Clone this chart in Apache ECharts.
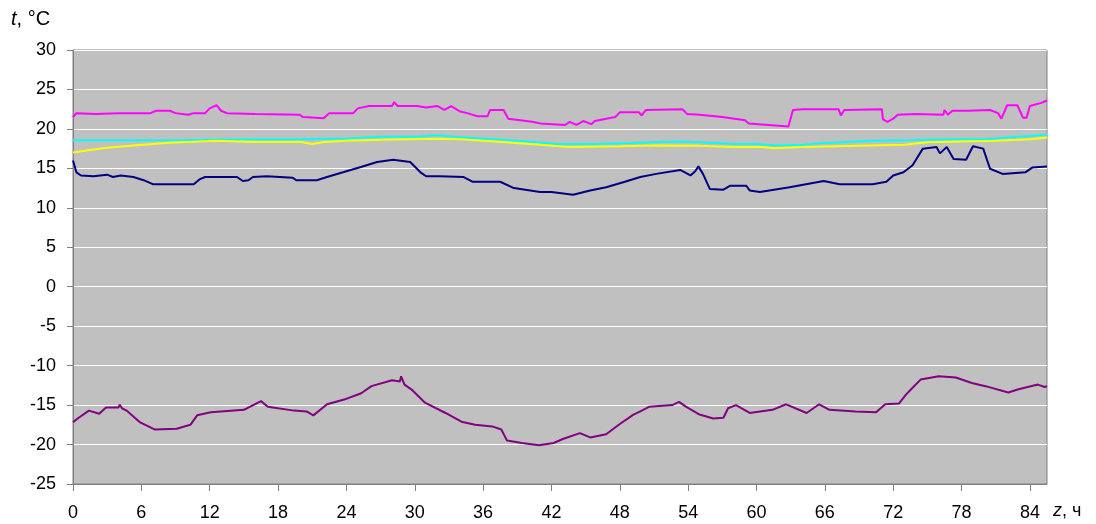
<!DOCTYPE html>
<html>
<head>
<meta charset="utf-8">
<title>t, °C</title>
<script src="https://cdn.jsdelivr.net/npm/echarts@6/dist/echarts.min.js"></script>
<style>
    html, body { margin: 0; padding: 0; background: #fff; }
    #main { width: 1096px; height: 524px; }
</style>
</head>
<body>
<div id="main"></div>
<script>
// hours
var xTicks = [0, 6, 12, 18, 24, 30, 36, 42, 48, 54, 60, 66, 72, 78, 84];

var magentaT = [0, 0.3, 2, 4, 6.8, 7.3, 8.5, 9, 10.1, 10.6, 11.6, 12.0, 12.6, 13.0, 13.5, 16, 19.9, 20.2, 22, 22.5, 24.6, 25, 26, 28, 28.2, 28.5, 30.2, 31, 32, 32.6, 33.2, 34, 34.6, 35.5, 36.4, 36.6, 37.8, 38.2, 40.3, 41, 43.2, 43.6, 44.2, 44.8, 45.5, 45.8, 47.6, 48, 49.7, 49.9, 50.3, 53.5, 53.9, 55, 57, 59, 59.3, 62.8, 63.2, 64, 67.2, 67.4, 67.7, 71, 71.1, 71.5, 72, 72.4, 74, 76.4, 76.5, 76.8, 77.2, 78.5, 80.5, 81.2, 81.5, 82, 82.9, 83.4, 83.7, 84, 85.0, 85.5];
var magentaV = [21.5, 22.0, 21.9, 22.0, 22.0, 22.3, 22.3, 22.0, 21.8, 22.0, 22.0, 22.6, 23.0, 22.3, 22.0, 21.9, 21.8, 21.5, 21.35, 22.0, 22.0, 22.6, 22.9, 22.9, 23.4, 22.9, 22.9, 22.7, 22.9, 22.4, 22.9, 22.2, 22.0, 21.6, 21.6, 22.4, 22.4, 21.3, 20.9, 20.7, 20.5, 20.9, 20.5, 21.0, 20.6, 21.0, 21.5, 22.1, 22.1, 21.7, 22.4, 22.5, 21.9, 21.8, 21.5, 21.1, 20.7, 20.3, 22.4, 22.5, 22.5, 21.7, 22.4, 22.5, 21.2, 20.9, 21.3, 21.8, 21.9, 21.8, 22.4, 21.8, 22.3, 22.3, 22.4, 22.0, 21.3, 23.0, 23.0, 21.4, 21.4, 22.9, 23.3, 23.6];

var cyanT = [0, 5, 10, 16, 20, 24, 27, 30, 32, 34, 38, 40, 42.5, 46, 49, 53, 55, 58, 60, 62, 64, 66, 70, 74, 77, 80, 82, 84, 85.5];
var cyanV = [18.55, 18.55, 18.6, 18.7, 18.7, 18.8, 19.0, 19.0, 19.2, 18.95, 18.6, 18.4, 18.1, 18.1, 18.2, 18.4, 18.3, 18.1, 18.1, 17.9, 18.0, 18.2, 18.5, 18.6, 18.7, 18.7, 18.9, 19.1, 19.3];

var yellowT = [0, 1.8, 3, 5.3, 7, 8.5, 11, 12.5, 16, 20, 21, 22, 24, 28, 32, 34, 36, 38, 41, 43.5, 48, 51, 55, 58, 60.5, 61.5, 64, 67, 70, 73, 75, 78, 81, 84, 85.5];
var yellowV = [17.0, 17.4, 17.6, 17.9, 18.1, 18.26, 18.4, 18.5, 18.35, 18.35, 18.1, 18.35, 18.5, 18.65, 18.75, 18.7, 18.5, 18.3, 18.0, 17.7, 17.8, 17.9, 17.85, 17.7, 17.7, 17.55, 17.7, 17.8, 17.9, 18.0, 18.3, 18.4, 18.5, 18.7, 18.9];

var navyT = [0, 0.3, 0.7, 1.8, 3, 3.5, 4.2, 5.3, 6.2, 7.0, 8.5, 10.6, 11.1, 11.6, 14.4, 14.9, 15.4, 15.8, 17, 19.3, 19.6, 21.4, 22.3, 23.7, 25.2, 26.7, 28.1, 29.6, 30.5, 31, 32.2, 34.3, 35.1, 37.5, 38.7, 41, 42, 43.9, 45.4, 46.8, 48.3, 49.8, 51.2, 53.3, 54.2, 54.6, 54.9, 55.3, 55.9, 57.1, 57.7, 59.1, 59.4, 60.3, 62.9, 65.9, 67.3, 70.2, 71.4, 72.0, 72.9, 73.7, 74.6, 75.8, 76.1, 76.7, 77.3, 78.4, 79.0, 79.9, 80.5, 81.6, 83.6, 84.2, 85.5];
var navyV = [16.0, 14.5, 14.1, 14.0, 14.2, 13.9, 14.1, 13.9, 13.5, 13.0, 13.0, 13.0, 13.6, 13.9, 13.9, 13.4, 13.5, 13.9, 14.0, 13.8, 13.5, 13.5, 13.9, 14.5, 15.15, 15.8, 16.1, 15.8, 14.5, 14.0, 14.0, 13.9, 13.3, 13.3, 12.5, 12.0, 12.0, 11.65, 12.2, 12.6, 13.25, 13.9, 14.3, 14.8, 14.1, 14.6, 15.25, 14.3, 12.4, 12.3, 12.8, 12.8, 12.2, 12.0, 12.6, 13.4, 13.0, 13.0, 13.3, 14.1, 14.5, 15.4, 17.5, 17.7, 16.9, 17.7, 16.2, 16.1, 17.8, 17.5, 14.95, 14.3, 14.5, 15.1, 15.25];

var purpleT = [0, 0.5, 1.4, 2.3, 2.9, 4.0, 4.1, 4.3, 4.7, 5.9, 7.2, 9.1, 10.3, 10.9, 12.1, 15.0, 16.5, 17.1, 19.4, 20.5, 21.1, 22.3, 23.8, 25.3, 26.2, 28.0, 28.7, 28.8, 29.1, 29.7, 30.9, 32.7, 34.1, 35.3, 36.8, 37.6, 38.1, 39.4, 40.9, 42.2, 43.0, 44.5, 45.4, 46.8, 48.0, 49.2, 49.8, 50.6, 52.6, 53.2, 53.8, 55.0, 56.2, 57.1, 57.5, 58.2, 59.4, 61.4, 62.6, 64.4, 65.5, 66.4, 68.7, 70.5, 71.3, 72.5, 73.1, 73.7, 74.4, 76.0, 77.5, 78.9, 80.1, 82.1, 83.0, 84.7, 85.3, 85.5];
var purpleV = [-17.16, -16.6, -15.7, -16.1, -15.3, -15.3, -14.95, -15.4, -15.7, -17.2, -18.1, -18.0, -17.5, -16.3, -15.9, -15.6, -14.5, -15.2, -15.7, -15.8, -16.3, -14.9, -14.3, -13.5, -12.6, -11.86, -12.0, -11.35, -12.4, -13.0, -14.7, -16.0, -17.1, -17.5, -17.7, -18.1, -19.5, -19.8, -20.1, -19.8, -19.3, -18.55, -19.1, -18.7, -17.4, -16.2, -15.8, -15.2, -15.0, -14.6, -15.2, -16.2, -16.7, -16.6, -15.4, -15.0, -16.0, -15.6, -14.9, -16.0, -14.9, -15.6, -15.8, -15.9, -14.9, -14.8, -13.7, -12.8, -11.77, -11.35, -11.5, -12.2, -12.6, -13.4, -13.0, -12.4, -12.7, -12.6];

function pairs(t, v) {
    var out = [];
    for (var i = 0; i < t.length; i++) {
        out.push([t[i], v[i]]);
    }
    return out;
}

function line(name, color, t, v) {
    return {
        name: name,
        type: 'line',
        showSymbol: false,
        smooth: false,
        lineStyle: { color: color, width: 2 },
        itemStyle: { color: color },
        data: pairs(t, v)
    };
}

var myChart = echarts.init(document.getElementById('main'));
var font = 'Liberation Sans, Arial, sans-serif';

var option = {
    animation: false,
    backgroundColor: '#ffffff',
    textStyle: { fontFamily: font },
    grid: {
        left: 73, right: 49, top: 50, bottom: 40,
        show: true,
        backgroundColor: '#C0C0C0',
        borderColor: '#808080',
        borderWidth: 1
    },
    xAxis: {
        type: 'value',
        min: 0,
        max: 85.5,
        interval: 6,
        splitLine: { show: false },
        axisLine: { onZero: false, lineStyle: { color: '#808080', width: 1 } },
        axisTick: { inside: false, length: 7, lineStyle: { color: '#808080' }, customValues: xTicks },
        axisLabel: { color: '#000', fontSize: 18, fontFamily: font, margin: 20, customValues: xTicks }
    },
    yAxis: {
        type: 'value',
        min: -25,
        max: 30,
        interval: 5,
        splitLine: { show: true, lineStyle: { color: '#ffffff', width: 1 } },
        axisLine: { show: true, onZero: false, lineStyle: { color: '#808080', width: 1 } },
        axisTick: { show: true, inside: false, length: 6, lineStyle: { color: '#808080' } },
        axisLabel: { color: '#000', fontSize: 18, fontFamily: font, margin: 17 }
    },
    graphic: [
        {
            type: 'text',
            left: 11,
            top: 9,
            style: {
                text: '{i|t}, °C',
                fill: '#000',
                fontSize: 20,
                fontFamily: font,
                rich: { i: { fontStyle: 'italic', fontSize: 20, fontFamily: font } }
            }
        },
        {
            type: 'text',
            left: 1053,
            top: 502,
            style: {
                text: '{i|z}, ч',
                fill: '#000',
                fontSize: 18,
                fontFamily: font,
                rich: { i: { fontStyle: 'italic', fontSize: 18, fontFamily: font } }
            }
        }
    ],
    series: [
        line('s1', '#FF00FF', magentaT, magentaV),
        line('s2', '#00FFFF', cyanT, cyanV),
        line('s3', '#FFFF00', yellowT, yellowV),
        line('s4', '#000080', navyT, navyV),
        line('s5', '#800080', purpleT, purpleV)
    ]
};

myChart.setOption(option);
</script>
</body>
</html>
